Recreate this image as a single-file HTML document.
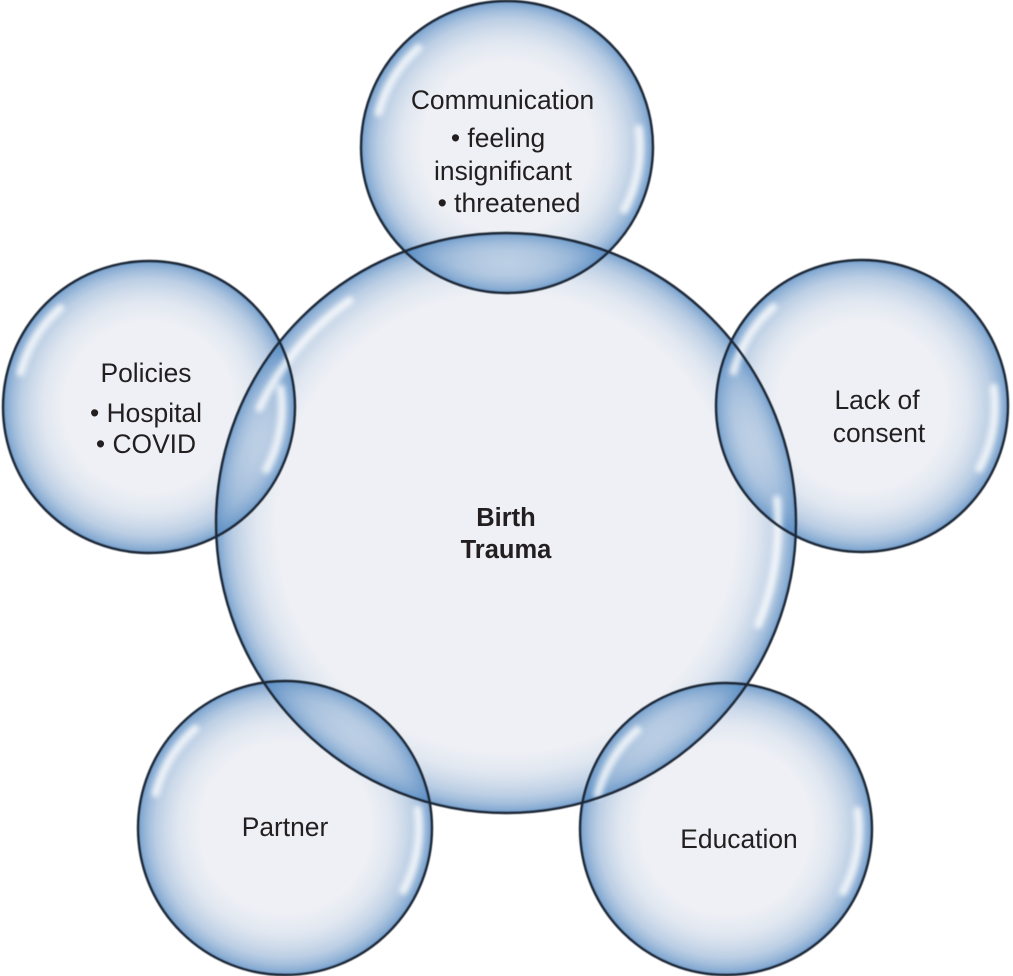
<!DOCTYPE html>
<html>
<head>
<meta charset="utf-8">
<style>
  html,body{margin:0;padding:0;background:#fff;}
  svg{display:block;}
  text{font-family:"Liberation Sans",Arial,sans-serif;fill:#231f20;}
</style>
</head>
<body>
<svg width="1013" height="976" viewBox="0 0 1013 976" xmlns="http://www.w3.org/2000/svg">
  <defs>
    <radialGradient id="gs" cx="0.5" cy="0.5" r="0.5">
      <stop offset="0.58" stop-color="#4f86c0" stop-opacity="0"/>
      <stop offset="0.72" stop-color="#4f86c0" stop-opacity="0.08"/>
      <stop offset="0.81" stop-color="#4f86c0" stop-opacity="0.2"/>
      <stop offset="0.88" stop-color="#4f86c0" stop-opacity="0.32"/>
      <stop offset="0.93" stop-color="#4f86c0" stop-opacity="0.47"/>
      <stop offset="0.97" stop-color="#4f86c0" stop-opacity="0.62"/>
      <stop offset="1" stop-color="#4f86c0" stop-opacity="0.78"/>
    </radialGradient>
    <radialGradient id="gl" cx="0.5" cy="0.5" r="0.5">
      <stop offset="0.79" stop-color="#4f86c0" stop-opacity="0"/>
      <stop offset="0.86" stop-color="#4f86c0" stop-opacity="0.08"/>
      <stop offset="0.905" stop-color="#4f86c0" stop-opacity="0.2"/>
      <stop offset="0.94" stop-color="#4f86c0" stop-opacity="0.32"/>
      <stop offset="0.967" stop-color="#4f86c0" stop-opacity="0.47"/>
      <stop offset="0.986" stop-color="#4f86c0" stop-opacity="0.62"/>
      <stop offset="1" stop-color="#4f86c0" stop-opacity="0.78"/>
    </radialGradient>
    <filter id="blur" x="-10%" y="-10%" width="120%" height="120%">
      <feGaussianBlur stdDeviation="2.6"/>
    </filter>
    <filter id="sblur" x="-5%" y="-5%" width="110%" height="110%">
      <feGaussianBlur stdDeviation="0.5"/>
    </filter>
  </defs>

  <!-- base fills -->
  <g fill="#eef0f5">
    <circle cx="506" cy="523" r="290"/>
    <circle cx="507" cy="147" r="146"/>
    <circle cx="149" cy="407" r="146"/>
    <circle cx="862" cy="406" r="146"/>
    <circle cx="285" cy="828" r="147"/>
    <circle cx="726" cy="829" r="146"/>
  </g>

  <!-- edge gradients -->
  <circle cx="506" cy="523" r="290" fill="url(#gl)"/>
  <circle cx="507" cy="147" r="146" fill="url(#gs)"/>
  <circle cx="149" cy="407" r="146" fill="url(#gs)"/>
  <circle cx="862" cy="406" r="146" fill="url(#gs)"/>
  <circle cx="285" cy="828" r="147" fill="url(#gs)"/>
  <circle cx="726" cy="829" r="146" fill="url(#gs)"/>

  <!-- highlights -->
  <g fill="none" stroke="#ffffff" stroke-width="8" stroke-linecap="round" opacity="0.8" filter="url(#blur)">
    <circle cx="506" cy="523" r="272" stroke-dasharray="142 2000" transform="rotate(205 506 523)"/>
    <circle cx="506" cy="523" r="272" stroke-dasharray="128 2000" transform="rotate(-5 506 523)"/>
    <circle cx="507" cy="147" r="133" stroke-dasharray="77 2000" transform="rotate(195 507 147)"/>
    <circle cx="507" cy="147" r="133" stroke-dasharray="84 2000" transform="rotate(-8 507 147)"/>
    <circle cx="149" cy="407" r="133" stroke-dasharray="77 2000" transform="rotate(195 149 407)"/>
    <circle cx="149" cy="407" r="133" stroke-dasharray="84 2000" transform="rotate(-8 149 407)"/>
    <circle cx="862" cy="406" r="133" stroke-dasharray="77 2000" transform="rotate(195 862 406)"/>
    <circle cx="862" cy="406" r="133" stroke-dasharray="84 2000" transform="rotate(-8 862 406)"/>
    <circle cx="285" cy="828" r="134" stroke-dasharray="77 2000" transform="rotate(195 285 828)"/>
    <circle cx="285" cy="828" r="134" stroke-dasharray="84 2000" transform="rotate(-8 285 828)"/>
    <circle cx="726" cy="829" r="133" stroke-dasharray="77 2000" transform="rotate(195 726 829)"/>
    <circle cx="726" cy="829" r="133" stroke-dasharray="84 2000" transform="rotate(-8 726 829)"/>
  </g>

  <!-- outlines -->
  <g fill="none" stroke="#1c2736" stroke-width="2.4" filter="url(#sblur)">
    <circle cx="506" cy="523" r="290"/>
    <circle cx="507" cy="147" r="146"/>
    <circle cx="149" cy="407" r="146"/>
    <circle cx="862" cy="406" r="146"/>
    <circle cx="285" cy="828" r="147"/>
    <circle cx="726" cy="829" r="146"/>
  </g>

  <!-- labels -->
  <g font-size="26.4" text-anchor="middle">
    <text x="502.5" y="109">Communication</text>
    <text x="498" y="147">• feeling</text>
    <text x="503" y="180">insignificant</text>
    <text x="509" y="212">• threatened</text>

    <text x="146" y="382">Policies</text>
    <text x="146" y="422">• Hospital</text>
    <text x="146" y="453">• COVID</text>

    <text x="877" y="409">Lack of</text>
    <text x="879" y="442">consent</text>

    <text x="285" y="836">Partner</text>
    <text x="739" y="848">Education</text>
  </g>
  <g font-size="25.5" font-weight="bold" text-anchor="middle">
    <text x="506" y="526">Birth</text>
    <text x="506" y="558">Trauma</text>
  </g>
</svg>
</body>
</html>
